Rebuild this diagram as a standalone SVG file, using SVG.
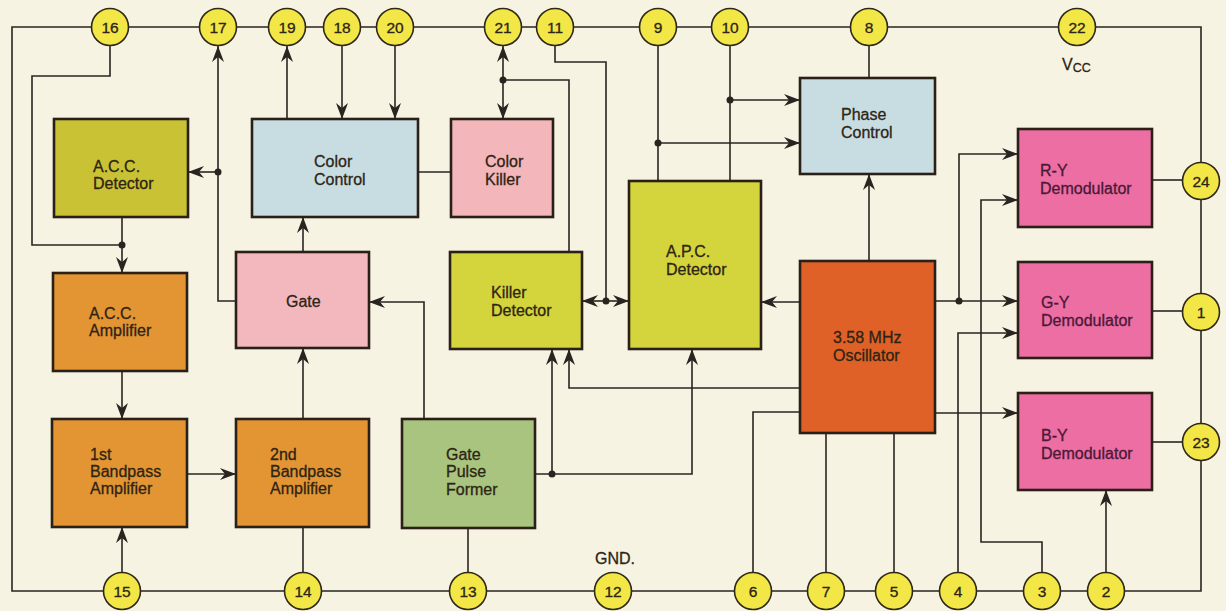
<svg xmlns="http://www.w3.org/2000/svg" width="1226" height="611" viewBox="0 0 1226 611">
<style>
.bg{fill:#f7f3e3}
.box{stroke:#2a2018;stroke-width:2.6}
.w{fill:none;stroke:#2a2420;stroke-width:1.6}
.pin circle{fill:#f3e647;stroke:#2e2818;stroke-width:1.6}
.pin text{font-family:"Liberation Sans",Arial,sans-serif;font-size:15.5px;fill:#2e2414;text-anchor:middle;stroke:#2e2414;stroke-width:0.3}
.t{font-family:"Liberation Sans",Arial,sans-serif;font-size:16px;fill:#2e2414;stroke:#2e2414;stroke-width:0.3}
.tm{fill:#4a1838;stroke:#4a1838}
.dot{fill:#2a2420}
</style>
<defs>
<marker id="a" viewBox="0 0 16 12" refX="16" refY="6" markerWidth="16" markerHeight="12" markerUnits="userSpaceOnUse" orient="auto-start-reverse">
<path d="M0,0 L16,6 L0,12 L5,6 Z" fill="#2a2420"/>
</marker>
</defs>
<rect class="bg" x="0" y="0" width="1226" height="611"/>

<g id="connectors">
<path class="w" d="M12,27 H1201 V591 H12 Z"/>
<path class="w" d="M110,45 V76 H32 V245 H122"/>
<path class="w" d="M122,217 V273" marker-end="url(#a)"/>
<path class="w" d="M122,371 V419" marker-end="url(#a)"/>
<path class="w" d="M122,573 V527" marker-end="url(#a)"/>
<path class="w" d="M187,474 H236" marker-end="url(#a)"/>
<path class="w" d="M303,573 V527"/>
<path class="w" d="M303,419 V348" marker-end="url(#a)"/>
<path class="w" d="M303,252 V217" marker-end="url(#a)"/>
<path class="w" d="M236,301 H218 V46" marker-end="url(#a)"/>
<path class="w" d="M218,172 H188" marker-end="url(#a)"/>
<path class="w" d="M287,119 V46" marker-end="url(#a)"/>
<path class="w" d="M342,46 V119" marker-end="url(#a)"/>
<path class="w" d="M395,46 V119" marker-end="url(#a)"/>
<path class="w" d="M418,172 H451"/>
<path class="w" d="M503,46 V119" marker-start="url(#a)" marker-end="url(#a)"/>
<path class="w" d="M503,80 H569 V252"/>
<path class="w" d="M555,45 V62 H606 V301"/>
<path class="w" d="M606,301 H582" marker-end="url(#a)"/>
<path class="w" d="M606,301 H629" marker-end="url(#a)"/>
<path class="w" d="M658,45 V181"/>
<path class="w" d="M658,143 H800" marker-end="url(#a)"/>
<path class="w" d="M730,45 V181"/>
<path class="w" d="M730,100 H800" marker-end="url(#a)"/>
<path class="w" d="M869,45 V78"/>
<path class="w" d="M869,261 V174" marker-end="url(#a)"/>
<path class="w" d="M800,302 H761" marker-end="url(#a)"/>
<path class="w" d="M800,388 H569 V349" marker-end="url(#a)"/>
<path class="w" d="M535,474 H692 V349" marker-end="url(#a)"/>
<path class="w" d="M552,474 V349" marker-end="url(#a)"/>
<path class="w" d="M424,419 V302 H369" marker-end="url(#a)"/>
<path class="w" d="M468,528 V573"/>
<path class="w" d="M800,412 H753 V573"/>
<path class="w" d="M826,433 V573"/>
<path class="w" d="M894,433 V573"/>
<path class="w" d="M935,301 H1018" marker-end="url(#a)"/>
<path class="w" d="M959,301 V154 H1018" marker-end="url(#a)"/>
<path class="w" d="M935,413 H1018" marker-end="url(#a)"/>
<path class="w" d="M1042,573 V542 H981 V200 H1018" marker-end="url(#a)"/>
<path class="w" d="M958,573 V333 H1018" marker-end="url(#a)"/>
<path class="w" d="M1106,573 V490" marker-end="url(#a)"/>
<path class="w" d="M1152,180 H1183"/>
<path class="w" d="M1152,311 H1183"/>
<path class="w" d="M1152,442 H1183"/>
<circle class="dot" cx="122" cy="245" r="3.5"/>
<circle class="dot" cx="218" cy="172" r="3.5"/>
<circle class="dot" cx="503" cy="80" r="3.5"/>
<circle class="dot" cx="606" cy="301" r="3.5"/>
<circle class="dot" cx="658" cy="143" r="3.5"/>
<circle class="dot" cx="730" cy="100" r="3.5"/>
<circle class="dot" cx="552" cy="474" r="3.5"/>
<circle class="dot" cx="959" cy="301" r="3.5"/>
</g>

<g id="acc-detector"><rect class="box" x="54" y="119" width="134" height="98" fill="#c9c235"/><text class="t" x="93" y="172">A.C.C.</text><text class="t" x="93" y="189">Detector</text></g>
<g id="color-control"><rect class="box" x="252" y="119" width="166" height="98" fill="#c8dde2"/><text class="t" x="314" y="167">Color</text><text class="t" x="314" y="185">Control</text></g>
<g id="color-killer"><rect class="box" x="451" y="119" width="102" height="98" fill="#f2b6bb"/><text class="t" x="485" y="167">Color</text><text class="t" x="485" y="185">Killer</text></g>
<g id="phase-control"><rect class="box" x="800" y="78" width="135" height="96" fill="#c8dde2"/><text class="t" x="841" y="120">Phase</text><text class="t" x="841" y="138">Control</text></g>
<g id="ry-demod"><rect class="box" x="1018" y="129" width="134" height="98" fill="#ec6ea3"/><text class="t tm" x="1040" y="176">R-Y</text><text class="t tm" x="1040" y="194">Demodulator</text></g>
<g id="acc-amplifier"><rect class="box" x="53" y="273" width="134" height="98" fill="#e39534"/><text class="t" x="89" y="319">A.C.C.</text><text class="t" x="89" y="336">Amplifier</text></g>
<g id="gate"><rect class="box" x="236" y="252" width="133" height="96" fill="#f2b8bd"/><text class="t" x="286" y="307">Gate</text></g>
<g id="killer-detector"><rect class="box" x="450" y="252" width="132" height="97" fill="#d4d43c"/><text class="t" x="491" y="298">Killer</text><text class="t" x="491" y="316">Detector</text></g>
<g id="apc-detector"><rect class="box" x="629" y="181" width="132" height="168" fill="#d4d43c"/><text class="t" x="666" y="257">A.P.C.</text><text class="t" x="666" y="275">Detector</text></g>
<g id="oscillator"><rect class="box" x="800" y="261" width="135" height="172" fill="#df6128"/><text class="t" x="833" y="343">3.58 MHz</text><text class="t" x="833" y="361">Oscillator</text></g>
<g id="gy-demod"><rect class="box" x="1018" y="262" width="134" height="96" fill="#ec6ea3"/><text class="t tm" x="1041" y="308">G-Y</text><text class="t tm" x="1041" y="326">Demodulator</text></g>
<g id="by-demod"><rect class="box" x="1018" y="393" width="134" height="97" fill="#ec6ea3"/><text class="t tm" x="1041" y="441">B-Y</text><text class="t tm" x="1041" y="459">Demodulator</text></g>
<g id="bp1"><rect class="box" x="52" y="419" width="135" height="108" fill="#e39534"/><text class="t" x="90" y="460">1st</text><text class="t" x="90" y="477">Bandpass</text><text class="t" x="90" y="494">Amplifier</text></g>
<g id="bp2"><rect class="box" x="236" y="419" width="133" height="108" fill="#e39534"/><text class="t" x="270" y="460">2nd</text><text class="t" x="270" y="477">Bandpass</text><text class="t" x="270" y="494">Amplifier</text></g>
<g id="gate-pulse-former"><rect class="box" x="402" y="419" width="133" height="109" fill="#a8c47e"/><text class="t" x="446" y="460">Gate</text><text class="t" x="446" y="477">Pulse</text><text class="t" x="446" y="495">Former</text></g>

<g id="pins">
<g class="pin" id="p16"><circle cx="110" cy="27" r="18.5"/><text x="110" y="32.5">16</text></g>
<g class="pin" id="p17"><circle cx="218" cy="27" r="18.5"/><text x="218" y="32.5">17</text></g>
<g class="pin" id="p19"><circle cx="287" cy="27" r="18.5"/><text x="287" y="32.5">19</text></g>
<g class="pin" id="p18"><circle cx="342" cy="27" r="18.5"/><text x="342" y="32.5">18</text></g>
<g class="pin" id="p20"><circle cx="395" cy="27" r="18.5"/><text x="395" y="32.5">20</text></g>
<g class="pin" id="p21"><circle cx="503" cy="27" r="18.5"/><text x="503" y="32.5">21</text></g>
<g class="pin" id="p11"><circle cx="555" cy="27" r="18.5"/><text x="555" y="32.5">11</text></g>
<g class="pin" id="p9"><circle cx="658" cy="27" r="18.5"/><text x="658" y="32.5">9</text></g>
<g class="pin" id="p10"><circle cx="730" cy="27" r="18.5"/><text x="730" y="32.5">10</text></g>
<g class="pin" id="p8"><circle cx="869" cy="27" r="18.5"/><text x="869" y="32.5">8</text></g>
<g class="pin" id="p22"><circle cx="1077" cy="27" r="18.5"/><text x="1077" y="32.5">22</text></g>
<g class="pin" id="p24"><circle cx="1201" cy="181" r="18.5"/><text x="1201" y="186.5">24</text></g>
<g class="pin" id="p1"><circle cx="1201" cy="312" r="18.5"/><text x="1201" y="317.5">1</text></g>
<g class="pin" id="p23"><circle cx="1201" cy="442" r="18.5"/><text x="1201" y="447.5">23</text></g>
<g class="pin" id="p15"><circle cx="122" cy="591" r="18.5"/><text x="122" y="596.5">15</text></g>
<g class="pin" id="p14"><circle cx="303" cy="591" r="18.5"/><text x="303" y="596.5">14</text></g>
<g class="pin" id="p13"><circle cx="468" cy="591" r="18.5"/><text x="468" y="596.5">13</text></g>
<g class="pin" id="p12"><circle cx="613" cy="591" r="18.5"/><text x="613" y="596.5">12</text></g>
<g class="pin" id="p6"><circle cx="753" cy="591" r="18.5"/><text x="753" y="596.5">6</text></g>
<g class="pin" id="p7"><circle cx="826" cy="591" r="18.5"/><text x="826" y="596.5">7</text></g>
<g class="pin" id="p5"><circle cx="894" cy="591" r="18.5"/><text x="894" y="596.5">5</text></g>
<g class="pin" id="p4"><circle cx="958" cy="591" r="18.5"/><text x="958" y="596.5">4</text></g>
<g class="pin" id="p3"><circle cx="1042" cy="591" r="18.5"/><text x="1042" y="596.5">3</text></g>
<g class="pin" id="p2"><circle cx="1106" cy="591" r="18.5"/><text x="1106" y="596.5">2</text></g>
</g>

<text class="t" x="1062" y="70" font-size="17" stroke-width="0.1">V<tspan font-size="12.5" dy="2">CC</tspan></text>
<text class="t" x="595" y="564" font-size="14.5" stroke-width="0.1">GND.</text>
</svg>
